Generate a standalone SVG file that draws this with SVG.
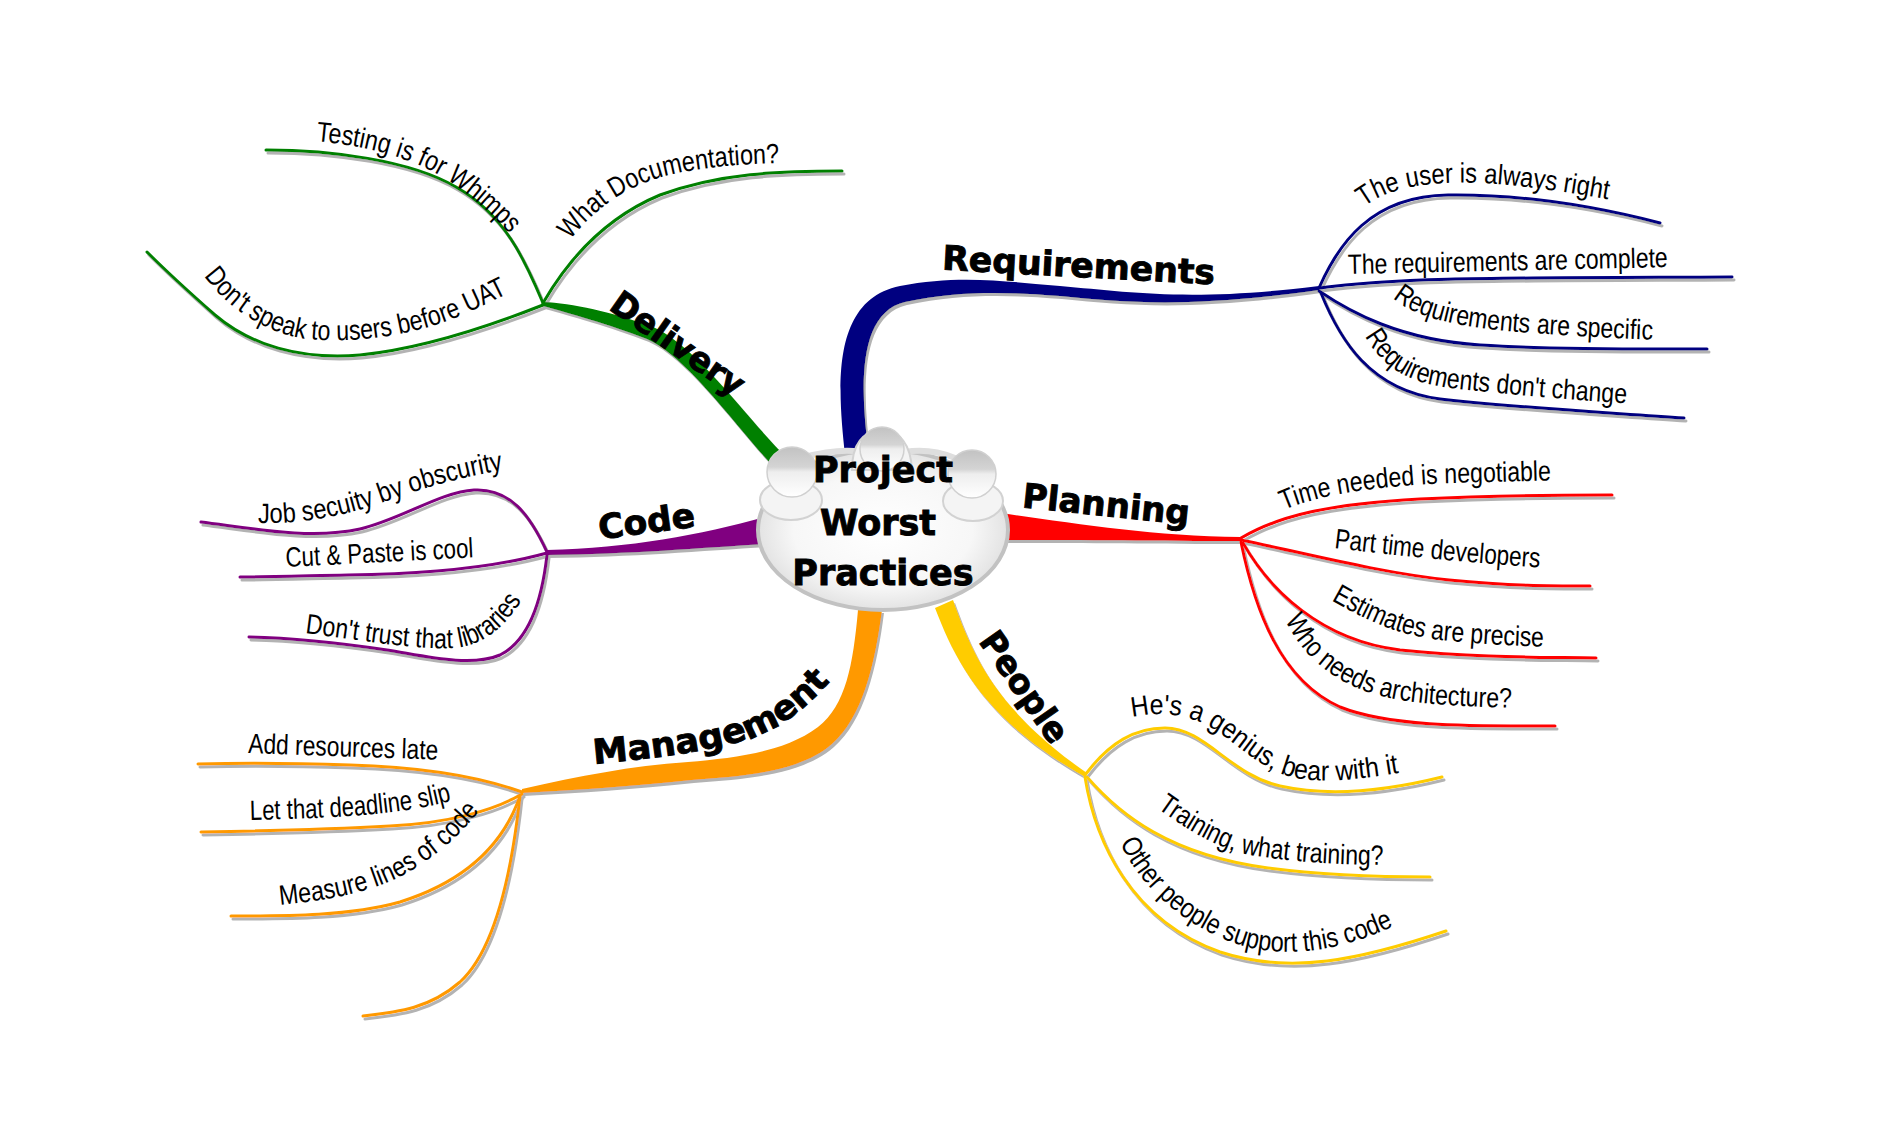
<svg xmlns="http://www.w3.org/2000/svg" width="1878" height="1130" viewBox="0 0 1878 1130">
<style>
.leaf{fill:none;stroke-width:3;stroke-linecap:round}
.lt{font-family:"Liberation Sans Narrow","Liberation Sans",Arial,sans-serif;font-size:28px;fill:#000}
.bt{font-family:"DejaVu Sans",Verdana,sans-serif;font-weight:bold;font-size:34px;fill:#000;stroke:#000;stroke-width:0.9}
.ct{font-family:"DejaVu Sans",Verdana,sans-serif;font-weight:bold;font-size:35px;fill:#000;stroke:#000;stroke-width:0.9;text-anchor:middle}
.req{stroke:#000080}.pla{stroke:#ff0000}.peo{stroke:#ffcc00}.man{stroke:#ff9900}.cod{stroke:#800080}.del{stroke:#008000}
.sho{fill:#f4f4f4;stroke:#d2d2d2;stroke-width:2}
.head{fill:url(#hd);stroke:#d0d0d0;stroke-width:1.5}
</style>
<defs>
<filter id="sh" x="-10%" y="-10%" width="120%" height="120%">
<feDropShadow dx="2" dy="3" stdDeviation="0.6" flood-color="#999" flood-opacity="0.75"/>
</filter>
<radialGradient id="cg" cx="50%" cy="50%" r="55%">
<stop offset="0" stop-color="#ffffff"/><stop offset="0.65" stop-color="#f7f7f7"/><stop offset="1" stop-color="#dcdcdc"/>
</radialGradient>
<linearGradient id="hd" x1="0" y1="0" x2="0" y2="1">
<stop offset="0" stop-color="#c2c2c2"/><stop offset="0.4" stop-color="#d4d4d4"/><stop offset="0.5" stop-color="#eeeeee"/><stop offset="1" stop-color="#ffffff"/>
</linearGradient>
<path id="tp-r1" d="M 1364 207 C 1390 186, 1435 181, 1482 183 C 1530 186, 1572 193, 1618 201"/>
<path id="tp-r2" d="M 1348 274 L 1672 267"/>
<path id="tp-r3" d="M 1393 298 C 1415 318, 1460 328, 1531 333 C 1590 337, 1630 339, 1665 340"/>
<path id="tp-r4" d="M 1365 336 C 1382 366, 1405 382, 1450 388 C 1530 397, 1590 401, 1650 405"/>
<path id="tp-p1" d="M 1284 510 C 1320 494, 1380 486, 1450 483 C 1490 482, 1530 481, 1565 480"/>
<path id="tp-p2" d="M 1334 548 C 1400 556, 1470 563, 1548 568"/>
<path id="tp-p3" d="M 1331 600 C 1370 622, 1400 637, 1450 641 C 1490 645, 1520 646, 1555 647"/>
<path id="tp-p4" d="M 1285 620 C 1305 660, 1340 690, 1400 700 C 1440 706, 1480 707, 1525 708"/>
<path id="tp-e1" d="M 1132 717 C 1160 711, 1190 714, 1215 730 C 1245 750, 1262 770, 1295 778 C 1330 784, 1370 778, 1410 771"/>
<path id="tp-e2" d="M 1157 808 C 1185 828, 1215 848, 1250 855 C 1300 863, 1345 865, 1395 865"/>
<path id="tp-e3" d="M 1120 843 C 1140 885, 1180 925, 1240 945 C 1290 960, 1350 950, 1410 918"/>
<path id="tp-m1" d="M 248 753 L 448 760"/>
<path id="tp-m2" d="M 250 820 C 330 818, 400 816, 458 799"/>
<path id="tp-m3" d="M 280 905 C 330 900, 380 892, 420 865 C 450 845, 470 825, 490 796"/>
<path id="tp-c1" d="M 258 523 C 310 524, 350 514, 390 500 C 430 486, 465 476, 510 469"/>
<path id="tp-c2" d="M 286 567 L 480 557"/>
<path id="tp-c3" d="M 305 633 C 360 640, 415 650, 455 648 C 485 645, 508 625, 526 593"/>
<path id="tp-d1" d="M 316 141 C 370 146, 420 160, 455 185 C 480 203, 498 220, 518 243"/>
<path id="tp-d2" d="M 570 240 C 592 213, 620 188, 665 176 C 705 166, 750 163, 805 163"/>
<path id="tp-d3" d="M 204 276 C 225 305, 260 330, 300 338 C 350 345, 410 335, 450 320 C 480 308, 500 297, 525 285"/>
<path id="tp-mg" d="M 594 764 C 660 758, 720 750, 760 735 C 790 722, 815 700, 840 670"/>
</defs>
<rect width="1878" height="1130" fill="#ffffff"/>
<g id="connectors" filter="url(#sh)">
<path fill="#000080" d="M 845 455 C 838 390, 830 300, 900 286 C 960 274, 1010 282, 1060 286 C 1130 292, 1190 302, 1319 286 L 1319 290 C 1190 308, 1130 303, 1060 296 C 1010 292, 960 290, 905 302 C 857 313, 860 390, 869 455 Z"/>
<path fill="#ff0000" d="M 1000 513 C 1080 524, 1150 536, 1241 537 L 1241 541 C 1150 541, 1080 540, 1000 540 Z"/>
<path fill="#ffcc00" d="M 953 600 C 973 655, 996 710, 1087 773 L 1085 777 C 985 720, 957 665, 935 608 Z"/>
<path fill="#ff9900" d="M 882 610 C 875 665, 862 718, 832 744 C 800 772, 745 776, 692 780 C 632 786, 580 790, 522 793 L 522 789 C 580 776, 630 766, 688 762 C 735 758, 785 752, 818 727 C 846 705, 853 665, 858 610 Z"/>
<path fill="#800080" d="M 765 517 C 700 535, 630 548, 547 550 L 547 555 C 630 554, 700 548, 765 544 Z"/>
<path fill="#008000" d="M 781 452 C 745 415, 695 345, 653 327 C 612 312, 572 303, 543 302 L 543 306 C 568 313, 608 324, 647 339 C 685 355, 735 425, 771 464 Z"/>
<path class="leaf req" d="M 1319 288 C 1338 245, 1370 196, 1448 195 C 1520 194, 1590 205, 1660 223"/>
<path class="leaf req" d="M 1319 288 C 1400 277, 1500 278, 1732 277"/>
<path class="leaf req" d="M 1319 291 C 1350 312, 1400 340, 1480 345 C 1560 350, 1640 349, 1707 349"/>
<path class="leaf req" d="M 1321 293 C 1340 340, 1370 390, 1440 399 C 1520 408, 1600 412, 1684 418"/>
<path class="leaf pla" d="M 1241 538 C 1280 515, 1330 504, 1420 499 C 1500 495, 1560 495, 1612 495"/>
<path class="leaf pla" stroke-width="4" d="M 1241 540 C 1300 552, 1380 573, 1449 580 C 1510 586, 1550 586, 1590 586"/>
<path class="leaf pla" d="M 1243 543 C 1270 590, 1320 640, 1400 650 C 1480 658, 1540 657, 1596 658"/>
<path class="leaf pla" d="M 1241 542 C 1255 610, 1280 680, 1340 707 C 1390 727, 1470 726, 1555 726"/>
<path class="leaf peo" d="M 1085 775 C 1110 742, 1135 728, 1165 728 C 1205 728, 1230 775, 1280 786 C 1330 797, 1390 790, 1442 777"/>
<path class="leaf peo" d="M 1087 777 C 1120 815, 1170 855, 1268 868 C 1330 876, 1390 877, 1430 877"/>
<path class="leaf peo" d="M 1085 777 C 1095 840, 1130 920, 1220 952 C 1290 975, 1360 960, 1446 931"/>
<path class="leaf man" d="M 522 792 C 480 777, 420 767, 350 765 C 290 763, 240 763, 198 764"/>
<path class="leaf man" d="M 522 794 C 495 810, 450 823, 390 826 C 320 830, 260 831, 201 832"/>
<path class="leaf man" d="M 520 796 C 505 840, 470 880, 400 902 C 350 916, 290 916, 231 916"/>
<path class="leaf man" d="M 520 796 C 512 870, 495 950, 460 982 C 430 1008, 400 1012, 363 1016"/>
<path class="leaf cod" d="M 547 552 C 530 515, 510 488, 474 490 C 440 492, 400 520, 360 529 C 310 540, 250 528, 201 522"/>
<path class="leaf cod" d="M 547 553 C 500 566, 440 574, 348 575 C 300 576, 270 577, 240 577"/>
<path class="leaf cod" d="M 547 555 C 542 600, 530 640, 500 655 C 470 668, 420 655, 387 650 C 340 643, 290 638, 249 637"/>
<path class="leaf del" d="M 543 303 C 525 260, 505 215, 456 187 C 410 160, 330 150, 266 150"/>
<path class="leaf del" d="M 543 303 C 565 265, 600 220, 660 195 C 720 173, 780 171, 842 171"/>
<path class="leaf del" stroke-width="3.5" d="M 543 305 C 500 322, 430 348, 360 355 C 300 360, 250 345, 215 315 C 190 293, 165 270, 147 252"/>
</g>
<g id="center">
<ellipse cx="883" cy="530" rx="125" ry="80" fill="url(#cg)" stroke="#c2c2c2" stroke-width="4"/>
<path d="M 800 458 Q 840 448, 860 452 M 905 452 Q 930 448, 955 458" fill="none" stroke="#dedede" stroke-width="6"/>
<ellipse class="sho" cx="791" cy="500" rx="31" ry="20"/>
<circle class="head" cx="792" cy="472" r="25"/>
<path class="sho" d="M 852 470 Q 852 432, 882 430 Q 910 432, 912 470 Z"/>
<circle class="head" cx="882" cy="449" r="22"/>
<ellipse class="sho" cx="973" cy="501" rx="30" ry="20"/>
<circle class="head" cx="972" cy="474" r="24"/>
<text class="ct" x="883" y="482">Project</text>
<text class="ct" x="878" y="535">Worst</text>
<text class="ct" x="883" y="585">Practices</text>
</g>
<g id="n-requirements"><text class="bt" text-anchor="middle" textLength="273" lengthAdjust="spacingAndGlyphs" transform="translate(1078 277) rotate(3.1)">Requirements</text></g>
<g id="n-planning"><text class="bt" text-anchor="middle" textLength="168" lengthAdjust="spacingAndGlyphs" transform="translate(1105 516) rotate(6)">Planning</text></g>
<g id="n-people"><text class="bt" text-anchor="middle" y="10" textLength="128" lengthAdjust="spacingAndGlyphs" transform="translate(1023 688) rotate(55)">People</text></g>
<g id="n-management"><text class="bt"><textPath href="#tp-mg" textLength="258" lengthAdjust="spacingAndGlyphs">Management</textPath></text></g>
<g id="n-code"><text class="bt" text-anchor="middle" textLength="97" lengthAdjust="spacingAndGlyphs" transform="translate(648 533) rotate(-7.7)">Code</text></g>
<g id="n-delivery"><text class="bt" text-anchor="middle" y="10" textLength="155" lengthAdjust="spacingAndGlyphs" transform="translate(677 345) rotate(35)">Delivery</text></g>
<g id="l-r1"><text class="lt"><textPath href="#tp-r1" textLength="250" lengthAdjust="spacingAndGlyphs">The user is always right</textPath></text></g>
<g id="l-r2"><text class="lt"><textPath href="#tp-r2" textLength="320" lengthAdjust="spacingAndGlyphs">The requirements are complete</textPath></text></g>
<g id="l-r3"><text class="lt"><textPath href="#tp-r3" textLength="266" lengthAdjust="spacingAndGlyphs">Requirements are specific</textPath></text></g>
<g id="l-r4"><text class="lt"><textPath href="#tp-r4" textLength="281" lengthAdjust="spacingAndGlyphs">Requirements don't change</textPath></text></g>
<g id="l-p1"><text class="lt"><textPath href="#tp-p1" textLength="270" lengthAdjust="spacingAndGlyphs">Time needed is negotiable</textPath></text></g>
<g id="l-p2"><text class="lt"><textPath href="#tp-p2" textLength="207" lengthAdjust="spacingAndGlyphs">Part time developers</textPath></text></g>
<g id="l-p3"><text class="lt"><textPath href="#tp-p3" textLength="221" lengthAdjust="spacingAndGlyphs">Estimates are precise</textPath></text></g>
<g id="l-p4"><text class="lt"><textPath href="#tp-p4" textLength="258" lengthAdjust="spacingAndGlyphs">Who needs architecture?</textPath></text></g>
<g id="l-e1"><text class="lt"><textPath href="#tp-e1" textLength="285" lengthAdjust="spacingAndGlyphs">He's a genius, bear with it</textPath></text></g>
<g id="l-e2"><text class="lt"><textPath href="#tp-e2" textLength="239" lengthAdjust="spacingAndGlyphs">Training, what training?</textPath></text></g>
<g id="l-e3"><text class="lt"><textPath href="#tp-e3" textLength="320" lengthAdjust="spacingAndGlyphs">Other people support this code</textPath></text></g>
<g id="l-m1"><text class="lt"><textPath href="#tp-m1" textLength="190" lengthAdjust="spacingAndGlyphs">Add resources late</textPath></text></g>
<g id="l-m2"><text class="lt"><textPath href="#tp-m2" textLength="203" lengthAdjust="spacingAndGlyphs">Let that deadline slip</textPath></text></g>
<g id="l-m3"><text class="lt"><textPath href="#tp-m3" textLength="228" lengthAdjust="spacingAndGlyphs">Measure lines of code</textPath></text></g>
<g id="l-c1"><text class="lt"><textPath href="#tp-c1" textLength="252" lengthAdjust="spacingAndGlyphs">Job secuity by obscurity</textPath></text></g>
<g id="l-c2"><text class="lt"><textPath href="#tp-c2" textLength="188" lengthAdjust="spacingAndGlyphs">Cut &amp; Paste is cool</textPath></text></g>
<g id="l-c3"><text class="lt"><textPath href="#tp-c3" textLength="236" lengthAdjust="spacingAndGlyphs">Don't trust that libraries</textPath></text></g>
<g id="l-d1"><text class="lt"><textPath href="#tp-d1" textLength="221" lengthAdjust="spacingAndGlyphs">Testing is for Whimps</textPath></text></g>
<g id="l-d2"><text class="lt"><textPath href="#tp-d2" textLength="232" lengthAdjust="spacingAndGlyphs">What Documentation?</textPath></text></g>
<g id="l-d3"><text class="lt"><textPath href="#tp-d3" textLength="333" lengthAdjust="spacingAndGlyphs">Don't speak to users before UAT</textPath></text></g>
</svg>
